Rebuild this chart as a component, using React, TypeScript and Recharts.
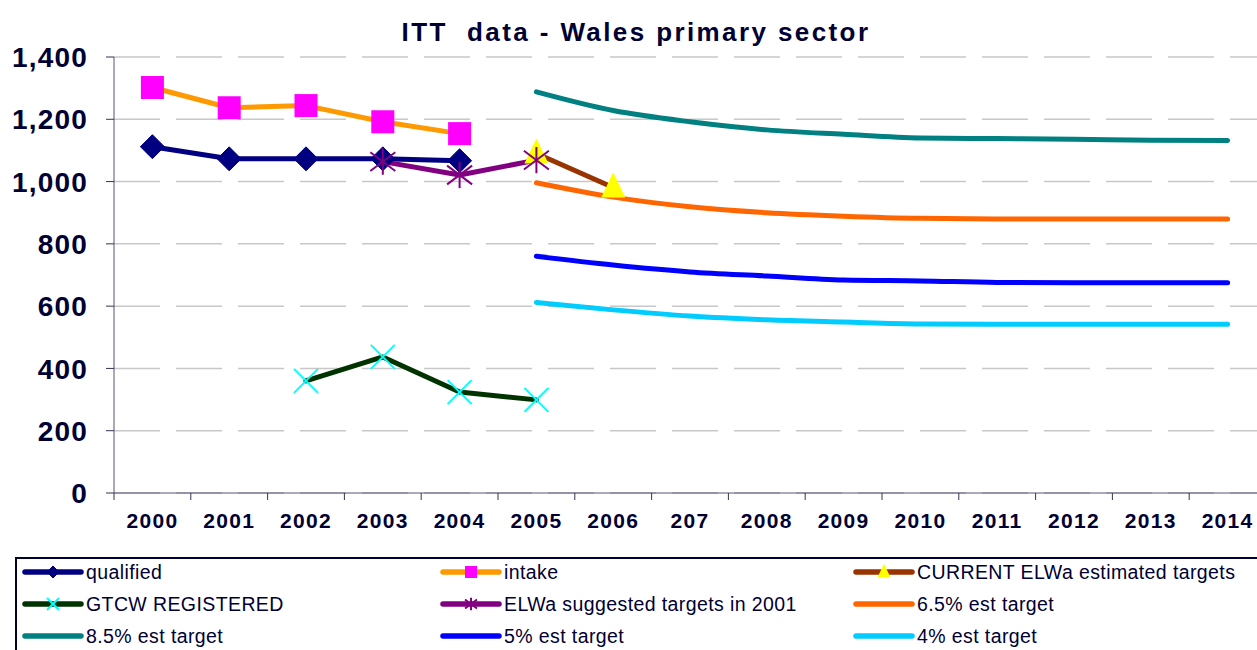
import React from 'react';
import { LineChart, Line, XAxis, YAxis, CartesianGrid } from 'recharts';

const categories = ['2000', '2001', '2002', '2003', '2004', '2005', '2006', '207', '2008', '2009', '2010', '2011', '2012', '2013', '2014'];
const yTicks = [0, 200, 400, 600, 800, 1000, 1200, 1400];

const qualified = [1112, 1073, 1073, 1073, 1067, null, null, null, null, null, null, null, null, null, null];
const intake = [1302, 1237, 1244, 1192, 1154, null, null, null, null, null, null, null, null, null, null];
const currentElwa = [null, null, null, null, null, 1090, 981, null, null, null, null, null, null, null, null];
const gtcw = [null, null, 360, 437, 324, 299, null, null, null, null, null, null, null, null, null];
const elwaSuggested = [null, null, null, 1064, 1021, 1069, null, null, null, null, null, null, null, null, null];
const est65 = [null, null, null, null, null, 996, 950, 919, 900, 889, 882, 880, 880, 880, 880];
const est85 = [null, null, null, null, null, 1288, 1228, 1192, 1166, 1152, 1140, 1138, 1136, 1133, 1132];
const est5 = [null, null, null, null, null, 760, 732, 710, 697, 684, 681, 676, 675, 675, 675];
const est4 = [null, null, null, null, null, 612, 588, 568, 556, 549, 543, 542, 542, 542, 542];

const data = categories.map((label, i) => ({
  x: i,
  label,
  qualified: qualified[i],
  intake: intake[i],
  currentElwa: currentElwa[i],
  gtcw: gtcw[i],
  elwaSuggested: elwaSuggested[i],
  est65: est65[i],
  est85: est85[i],
  est5: est5[i],
  est4: est4[i],
}));

const boundaries = [...categories.map((_, i) => i - 0.5), categories.length - 0.5];

const TEXT = '#000033';
const FONT = '"Liberation Sans", Arial, sans-serif';

const CHART_W = 1280;
const CHART_H = 557;
const PLOT_LEFT = 114;
const PLOT_RIGHT = 1266;
const STEP = (PLOT_RIGHT - PLOT_LEFT) / categories.length;

type MarkerKind = 'diamond' | 'square' | 'triangle' | 'x' | 'asterisk' | 'none';

function drawMarker(kind: MarkerKind, cx: number, cy: number, s: number, fill: string) {
  switch (kind) {
    case 'diamond':
      return <polygon points={`${cx},${cy - s} ${cx + s},${cy} ${cx},${cy + s} ${cx - s},${cy}`} fill={fill} stroke={fill} strokeWidth={1} />;
    case 'square':
      return <rect x={cx - s} y={cy - s} width={2 * s} height={2 * s} fill={fill} />;
    case 'triangle': {
      const h = s * 2.1;
      return <polygon points={`${cx},${cy - h * 0.6} ${cx + s},${cy + h * 0.4} ${cx - s},${cy + h * 0.4}`} fill={fill} />;
    }
    case 'x':
      return (
        <g stroke={fill} strokeWidth={2}>
          <line x1={cx - s} y1={cy - s} x2={cx + s} y2={cy + s} />
          <line x1={cx - s} y1={cy + s} x2={cx + s} y2={cy - s} />
        </g>
      );
    case 'asterisk':
      return (
        <g stroke={fill} strokeWidth={2}>
          <line x1={cx} y1={cy - s * 1.05} x2={cx} y2={cy + s * 1.05} />
          <line x1={cx - s} y1={cy - s * 0.75} x2={cx + s} y2={cy + s * 0.75} />
          <line x1={cx - s} y1={cy + s * 0.75} x2={cx + s} y2={cy - s * 0.75} />
        </g>
      );
    default:
      return null;
  }
}

const makeDot = (kind: MarkerKind, fill: string, size: number) => (props: any) => {
  const { cx, cy, value, index, dataKey } = props;
  const k = `${dataKey}-${index}`;
  if (cx == null || cy == null || value == null || isNaN(cy)) return <g key={k} />;
  return <g key={k}>{drawMarker(kind, cx, cy, size, fill)}</g>;
};

type SeriesCfg = {
  key: string;
  name: string;
  stroke: string;
  marker: MarkerKind;
  markerFill: string;
  markerSize: number;
  smooth: boolean;
};

const series: Record<string, SeriesCfg> = {
  qualified: { key: 'qualified', name: 'qualified', stroke: '#000080', marker: 'diamond', markerFill: '#000080', markerSize: 12, smooth: false },
  intake: { key: 'intake', name: 'intake', stroke: '#FF9900', marker: 'square', markerFill: '#FF00FF', markerSize: 11.5, smooth: false },
  currentElwa: { key: 'currentElwa', name: 'CURRENT ELWa estimated targets', stroke: '#993300', marker: 'triangle', markerFill: '#FFFF00', markerSize: 12, smooth: false },
  gtcw: { key: 'gtcw', name: 'GTCW REGISTERED', stroke: '#003300', marker: 'x', markerFill: '#00FFFF', markerSize: 12, smooth: false },
  elwaSuggested: { key: 'elwaSuggested', name: 'ELWa suggested targets in 2001', stroke: '#800080', marker: 'asterisk', markerFill: '#800080', markerSize: 12.5, smooth: false },
  est65: { key: 'est65', name: '6.5% est target', stroke: '#FF6600', marker: 'none', markerFill: '#FF6600', markerSize: 0, smooth: true },
  est85: { key: 'est85', name: '8.5% est target', stroke: '#008080', marker: 'none', markerFill: '#008080', markerSize: 0, smooth: true },
  est5: { key: 'est5', name: '5% est target', stroke: '#0000FF', marker: 'none', markerFill: '#0000FF', markerSize: 0, smooth: true },
  est4: { key: 'est4', name: '4% est target', stroke: '#00CCFF', marker: 'none', markerFill: '#00CCFF', markerSize: 0, smooth: true },
};

const drawOrder = ['est85', 'est65', 'est5', 'est4', 'gtcw', 'intake', 'qualified', 'currentElwa', 'elwaSuggested'];
const legendOrder = ['qualified', 'intake', 'currentElwa', 'gtcw', 'elwaSuggested', 'est65', 'est85', 'est5', 'est4'];
const legendColX = [22, 440, 853];
const legendRowY = [572, 604, 636];

const XTick = (props: any) => {
  const { x, y, payload } = props;
  const idx = Math.round(payload.value + 0.5);
  if (idx < 0 || idx >= categories.length) return <g />;
  return (
    <text x={x + STEP / 2} y={y} dy="0.71em" textAnchor="middle" fill={TEXT}
      style={{ fontFamily: FONT, fontWeight: 700, fontSize: 21, letterSpacing: 1.3 }}>
      {categories[idx]}
    </text>
  );
};

const YTick = (props: any) => {
  const { x, y, payload } = props;
  return (
    <text x={x} y={y} dy="0.36em" textAnchor="end" fill={TEXT}
      style={{ fontFamily: FONT, fontWeight: 700, fontSize: 28, letterSpacing: 1.2 }}>
      {Number(payload.value).toLocaleString('en-US')}
    </text>
  );
};

function LegendIcon({ cfg }: { cfg: SeriesCfg }) {
  return (
    <svg width={62} height={20} style={{ display: 'block' }}>
      <line x1={3} y1={10} x2={59} y2={10} stroke={cfg.stroke} strokeWidth={5.5} strokeLinecap="round" />
      {drawMarker(cfg.marker, 31, 10, cfg.marker === 'triangle' ? 6.5 : 6, cfg.markerFill)}
    </svg>
  );
}

export default function App() {
  return (
    <div style={{ position: 'absolute', left: 0, top: 0, width: 1257, height: 650, overflow: 'hidden', background: '#fff' }}>
      <svg width={1257} height={50} style={{ position: 'absolute', left: 0, top: 0 }}>
        <text x={636} y={41} textAnchor="middle" fill={TEXT}
          style={{ fontFamily: FONT, fontWeight: 700, fontSize: 26, letterSpacing: 2.4 }}>
          {'ITT\u00a0 data - Wales primary sector'}
        </text>
      </svg>
      <div style={{ position: 'absolute', left: 0, top: 0 }}>
        <LineChart width={CHART_W} height={CHART_H} data={data}
          margin={{ top: 57, right: CHART_W - PLOT_RIGHT, bottom: 0, left: 0 }}>
          <CartesianGrid horizontal vertical={false} stroke="#C8C8C8" strokeWidth={1.5} strokeDasharray="46 16" />
          <XAxis dataKey="x" type="number" domain={[-0.5, categories.length - 0.5]} ticks={boundaries}
            interval={0} height={CHART_H - 493} tickSize={7} tickMargin={13}
            stroke="#555577" tickLine={{ stroke: '#333355' }} tick={<XTick />} allowDecimals />
          <YAxis type="number" domain={[0, 1400]} ticks={yTicks} width={PLOT_LEFT} tickSize={8} tickMargin={18}
            stroke="#555577" tickLine={{ stroke: '#333355' }} tick={<YTick />} interval={0} />
          {drawOrder.map((k) => {
            const cfg = series[k];
            return (
              <Line key={k} dataKey={k} name={cfg.name} type={cfg.smooth ? 'monotone' : 'linear'}
                stroke={cfg.stroke} strokeWidth={5} strokeLinecap="round" strokeLinejoin="round"
                dot={cfg.marker === 'none' ? false : makeDot(cfg.marker, cfg.markerFill, cfg.markerSize)}
                activeDot={false} isAnimationActive={false} connectNulls={false} />
            );
          })}
        </LineChart>
      </div>
      <div style={{ position: 'absolute', left: 15, top: 557, width: 1320, height: 120, border: `2px solid ${TEXT}`, boxSizing: 'border-box' }} />
      {legendOrder.map((k, i) => {
        const cfg = series[k];
        const col = i % 3;
        const row = Math.floor(i / 3);
        return (
          <div key={k} style={{ position: 'absolute', left: legendColX[col], top: legendRowY[row] - 12, height: 24, display: 'flex', alignItems: 'center' }}>
            <LegendIcon cfg={cfg} />
            <span style={{ marginLeft: 2, fontFamily: FONT, fontSize: 19.5, letterSpacing: 0.4, color: TEXT, whiteSpace: 'nowrap' }}>{cfg.name}</span>
          </div>
        );
      })}
    </div>
  );
}
